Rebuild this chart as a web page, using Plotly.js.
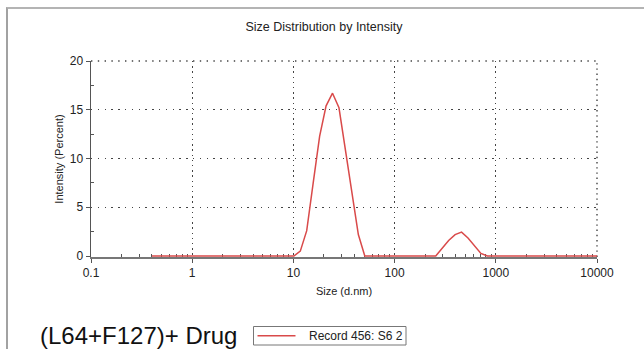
<!DOCTYPE html>
<html>
<head>
<meta charset="utf-8">
<script src="https://cdn.plot.ly/plotly-3.0.1.min.js"></script>
<style>
  html, body { margin: 0; padding: 0; background: #fff; }
  #wrap { position: relative; width: 644px; height: 349px; overflow: hidden; }
  #chart { position: absolute; left: 0; top: 0; width: 644px; height: 349px; }
  #frame {
    position: absolute; left: 6px; top: 7px; right: -4px; bottom: -4px;
    border-top: 2px solid #b4b4b4; border-left: 2px solid #a2a2a2;
    pointer-events: none;
  }
</style>
</head>
<body>
<div id="wrap"><div id="chart"></div><div id="frame"></div></div>
<script>
// Size classes (d.nm) of the intensity distribution
const sizeNm = [
  0.4, 0.4632, 0.5365, 0.6213, 0.7195, 0.8332, 0.9649, 1.117, 1.294, 1.499,
  1.736, 2.01, 2.328, 2.696, 3.122, 3.615, 4.187, 4.849, 5.615, 6.503,
  7.531, 8.721, 10.1, 11.7, 13.54, 15.69, 18.17, 21.04, 24.36, 28.21,
  32.67, 37.84, 43.82, 50.75, 58.77, 68.06, 78.82, 91.28, 105.7, 122.4,
  141.8, 164.2, 190.1, 220.2, 255.0, 295.3, 342.0, 396.1, 458.7, 531.2,
  615.1, 712.4, 825.0, 955.4, 1106, 1281, 1484, 1718, 1990, 2305,
  2669, 3091, 3580, 4145, 4801, 5560, 6439, 7456, 8635, 10000
];

// Intensity (%) for each size class
const intensityPct = [
  0, 0, 0, 0, 0, 0, 0, 0, 0, 0,
  0, 0, 0, 0, 0, 0, 0, 0, 0, 0,
  0, 0, 0, 0.5, 2.6, 7.5, 12.3, 15.4, 16.7, 15.2,
  11.0, 6.5, 2.2, 0, 0, 0, 0, 0, 0, 0,
  0, 0, 0, 0, 0, 0.8, 1.6, 2.2, 2.45, 1.85,
  1.05, 0.27, 0, 0, 0, 0, 0, 0, 0, 0,
  0, 0, 0, 0, 0, 0, 0, 0, 0, 0
];

const seriesName = 'Record 456: S6 2';
const sampleLabel = '(L64+F127)+ Drug';
const chartTitle = 'Size Distribution by Intensity';
const xTitle = 'Size (d.nm)';
const yTitle = 'Intensity (Percent)';

const xTickVals = [0.1, 1, 10, 100, 1000, 10000];
const xTickText = ['0.1', '1', '10', '100', '1000', '10000'];
const yTickVals = [0, 5, 10, 15, 20];
const yTickText = ['0', '5', '10', '15', '20'];
const yMinorVals = [2.5, 7.5, 12.5, 17.5];

// minor ticks at 2..9 within each decade
const xMinorVals = [];
for (let d = -1; d < 4; d++) {
  for (let m = 2; m <= 9; m++) xMinorVals.push(m * Math.pow(10, d));
}

const FONT = 'Liberation Sans, Arial, Helvetica, sans-serif';
const LINE_COLOR = '#d94a4a';
const GRID_COLOR = '#444';
const X_DASH = '1.4px,3.8px';
const Y_DASH = '1.4px,5.4px';
const M = { l: 91, r: 47, t: 61, b: 92, autoexpand: false };
const W = 644 - M.l - M.r, H = 349 - M.t - M.b;
const px = v => (v - M.l) / W;       // page x -> paper x
const py = v => (349 - M.b - v) / H; // page y -> paper y

const trace = {
  x: sizeNm,
  y: intensityPct,
  type: 'scatter',
  mode: 'lines',
  name: seriesName,
  line: { color: LINE_COLOR, width: 1.5 },
  hoverinfo: 'x+y'
};

// legend key drawn as a framed box with a line sample and the record name
const legendBox = { x0: 253.5, x1: 406, y0: 326.5, y1: 345 };
const legendMidY = (legendBox.y0 + legendBox.y1) / 2;

const layout = {
  width: 644, height: 349,
  margin: M,
  paper_bgcolor: '#fff', plot_bgcolor: '#fff',
  font: { family: FONT, color: '#222', size: 12 },
  title: {
    text: chartTitle,
    font: { family: FONT, size: 12.5, color: '#222' },
    xref: 'container', x: 0.503, xanchor: 'center',
    yref: 'container', y: 1 - 27 / 349, yanchor: 'middle'
  },
  xaxis: {
    type: 'log', range: [-1, 4], automargin: false,
    tickmode: 'array', tickvals: xTickVals, ticktext: xTickText,
    ticks: 'outside', ticklen: 4, tickwidth: 1, tickcolor: '#555',
    tickfont: { family: FONT, size: 12, color: '#222' },
    showline: true, linecolor: '#777', linewidth: 1.5,
    showgrid: true, gridcolor: GRID_COLOR, gridwidth: 1.4, griddash: X_DASH,
    zeroline: false, layer: 'below traces',
    minor: { tickmode: 'array', tickvals: xMinorVals, ticks: 'inside', ticklen: 3,
             tickcolor: '#555', showgrid: false },
    title: { text: xTitle, font: { family: FONT, size: 11, color: '#222' }, standoff: 8 }
  },
  yaxis: {
    range: [-0.1, 20], automargin: false,
    tickmode: 'array', tickvals: yTickVals, ticktext: yTickText,
    ticks: 'outside', ticklen: 4, tickwidth: 1, tickcolor: '#555',
    tickfont: { family: FONT, size: 12, color: '#222' },
    showline: true, linecolor: '#555', linewidth: 1.5,
    showgrid: true, gridcolor: GRID_COLOR, gridwidth: 1.4, griddash: Y_DASH,
    zeroline: false, layer: 'below traces',
    minor: { tickmode: 'array', tickvals: yMinorVals, ticks: 'inside', ticklen: 3,
             tickcolor: '#555', showgrid: false },
    title: { text: yTitle, font: { family: FONT, size: 11, color: '#222' }, standoff: 4 }
  },
  showlegend: false,
  shapes: [
    // dotted borders along the top (20 %) and right (10000 nm) edges of the plot
    { type: 'line', xref: 'x domain', yref: 'y domain', x0: 0, x1: 1, y0: 1, y1: 1,
      layer: 'below', line: { color: GRID_COLOR, width: 1.4, dash: Y_DASH } },
    { type: 'line', xref: 'x domain', yref: 'y domain', x0: 1, x1: 1, y0: 0, y1: 1,
      layer: 'below', line: { color: GRID_COLOR, width: 1.4, dash: X_DASH } },
    { type: 'rect', xref: 'paper', yref: 'paper',
      x0: px(legendBox.x0), x1: px(legendBox.x1), y0: py(legendBox.y1), y1: py(legendBox.y0),
      line: { color: '#777', width: 1 }, fillcolor: '#fff' },
    { type: 'line', xref: 'paper', yref: 'paper',
      x0: px(legendBox.x0 + 4), x1: px(legendBox.x0 + 42), y0: py(legendMidY), y1: py(legendMidY),
      line: { color: LINE_COLOR, width: 1.5 } }
  ],
  annotations: [
    { text: seriesName, showarrow: false,
      xref: 'paper', yref: 'paper',
      x: px(legendBox.x1 - 1), y: py(legendMidY + 0.5), xanchor: 'right', yanchor: 'middle',
      font: { family: FONT, size: 12, color: '#222' } },
    { text: sampleLabel, showarrow: false,
      xref: 'paper', yref: 'paper',
      x: px(38), y: py(335), xanchor: 'left', yanchor: 'middle',
      font: { family: FONT, size: 24, color: '#111' } }
  ]
};

Plotly.newPlot('chart', [trace], layout, { displayModeBar: false, staticPlot: true });
</script>
</body>
</html>
